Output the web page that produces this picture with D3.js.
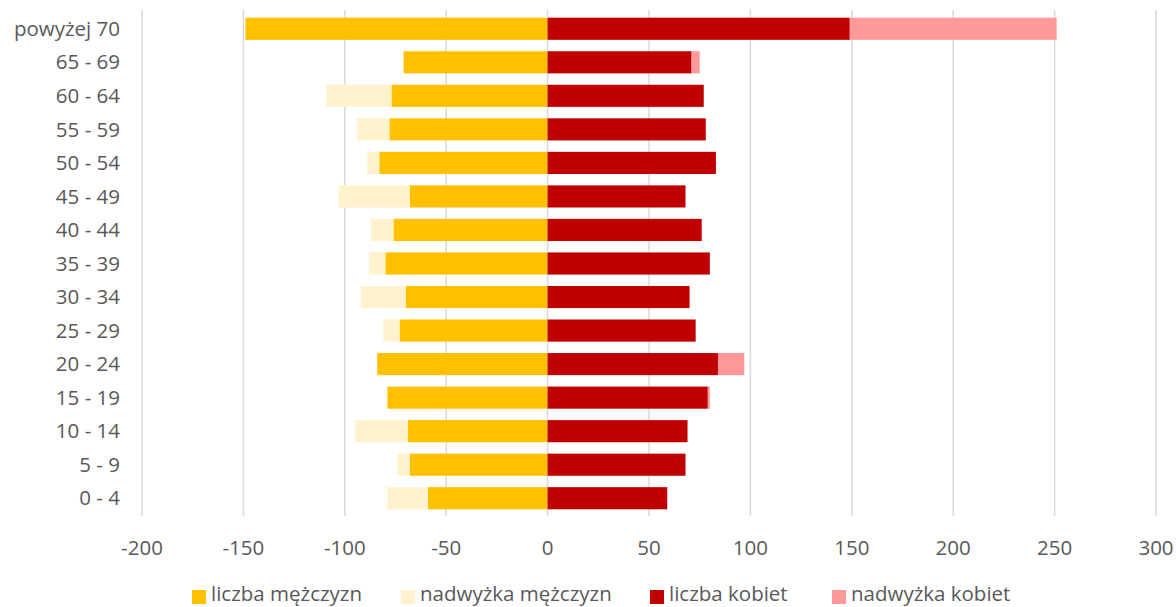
<!DOCTYPE html>
<html><head><meta charset="utf-8">
<script src="https://cdn.jsdelivr.net/npm/d3@7"></script>
<style>body{margin:0;background:#fff;} svg{display:block;font-family:"Open Sans",Lato,sans-serif;}</style>
</head><body>
<svg id="c" width="1176" height="607"></svg>
<script>
const categories = ["powyżej 70","65 - 69","60 - 64","55 - 59","50 - 54","45 - 49","40 - 44","35 - 39","30 - 34","25 - 29","20 - 24","15 - 19","10 - 14","5 - 9","0 - 4"];
const maleCount   = [149,71,77,78,83,68,76,80,70,73,84,79,69,68,59];
const maleExcess  = [0,0,32,16,6,35,11,8,22,8,0,0,26,6,20];
const femaleCount = [149,71,77,78,83,68,76,80,70,73,84,79,69,68,59];
const femaleExcess= [102,4,0,0,0,0,0,0,0,0,13,1,0,0,0];
const xTicks = [-200,-150,-100,-50,0,50,100,150,200,250,300];
const seriesNames = ["liczba mężczyzn","nadwyżka mężczyzn","liczba kobiet","nadwyżka kobiet"];
const colors = ["#FFC000","#FFF2CC","#C00000","#FF9999"];

const svg = d3.select("#c");
const x = d3.scaleLinear().domain([-200,300]).range([142,1156]);
const y = d3.scaleBand().domain(categories).range([12,515]).paddingInner(0.34).paddingOuter(0.17);

// gridlines
svg.append("g").selectAll("line").data(xTicks).join("line")
  .attr("x1",d=>x(d)).attr("x2",d=>x(d)).attr("y1",10).attr("y2",516)
  .attr("stroke","#d9d9d9").attr("stroke-width",1.5);

const rows = categories.map((c,i)=>({c, segs:[
  {x0:-maleCount[i], x1:0, s:0},
  {x0:-maleCount[i]-maleExcess[i], x1:-maleCount[i], s:1},
  {x0:0, x1:femaleCount[i], s:2},
  {x0:femaleCount[i], x1:femaleCount[i]+femaleExcess[i], s:3}
]}));

const g = svg.append("g");
rows.forEach(r=>{
  g.selectAll(null).data(r.segs.filter(s=>s.x1>s.x0)).join("rect")
    .attr("x",d=>x(d.x0)).attr("width",d=>x(d.x1)-x(d.x0))
    .attr("y",y(r.c)).attr("height",y.bandwidth())
    .attr("fill",d=>colors[d.s]);
});

const fs = 20.5, tc = "#595959";
// category labels
svg.append("g").selectAll("text").data(categories).join("text")
  .attr("x",120).attr("y",d=>y(d)+y.bandwidth()/2).attr("dy","0.35em")
  .attr("text-anchor","end").attr("font-size",fs).attr("fill",tc).text(d=>d);

// x tick labels
svg.append("g").selectAll("text").data(xTicks).join("text")
  .attr("x",d=>x(d)).attr("y",548).attr("dy","0.35em")
  .attr("text-anchor","middle").attr("font-size",fs).attr("fill",tc).text(d=>d);

// legend
const legX = [192,401,650,832];
const leg = svg.append("g").selectAll("g").data(seriesNames).join("g")
  .attr("transform",(d,i)=>`translate(${legX[i]},0)`);
leg.append("rect").attr("x",0).attr("y",590).attr("width",14).attr("height",14).attr("fill",(d,i)=>colors[i]);
leg.append("text").attr("x",19).attr("y",601).attr("font-size",fs).attr("fill",tc).text(d=>d);
</script>
</body></html>
